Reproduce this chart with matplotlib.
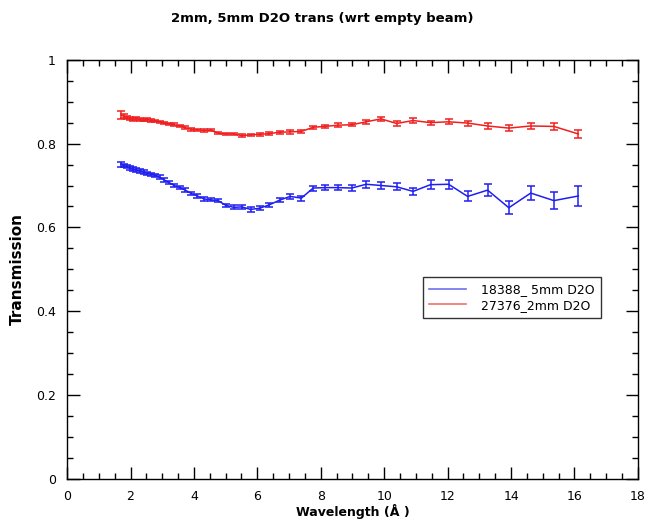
import matplotlib
matplotlib.use("Agg")
import matplotlib.pyplot as plt
from matplotlib.ticker import MultipleLocator
from matplotlib.lines import Line2D

wavelength = [1.71, 1.79, 1.88, 1.98, 2.08, 2.18, 2.29, 2.41, 2.53, 2.65, 2.78, 2.92,
              3.07, 3.22, 3.38, 3.55, 3.73, 3.92, 4.11, 4.32, 4.53, 4.76, 5.00, 5.25,
              5.51, 5.79, 6.08, 6.38, 6.70, 7.03, 7.39, 7.76, 8.14, 8.55, 8.98, 9.43,
              9.90, 10.39, 10.91, 11.46, 12.03, 12.63, 13.26, 13.93, 14.62, 15.35, 16.12]

trans_5mm = [0.750, 0.747, 0.745, 0.742, 0.739, 0.737, 0.735, 0.732, 0.729, 0.727, 0.724, 0.720,
             0.713, 0.707, 0.700, 0.695, 0.689, 0.681, 0.675, 0.668, 0.666, 0.664, 0.653, 0.648,
             0.649, 0.643, 0.646, 0.654, 0.665, 0.674, 0.670, 0.694, 0.695, 0.695, 0.694, 0.703,
             0.700, 0.697, 0.686, 0.702, 0.703, 0.674, 0.689, 0.647, 0.682, 0.664, 0.675]
err_5mm = [0.005, 0.004, 0.004, 0.004, 0.004, 0.004, 0.004, 0.004, 0.004, 0.004, 0.004, 0.004,
           0.004, 0.004, 0.004, 0.004, 0.004, 0.004, 0.004, 0.004, 0.004, 0.004, 0.004, 0.005,
           0.005, 0.005, 0.005, 0.005, 0.005, 0.006, 0.006, 0.006, 0.006, 0.006, 0.007, 0.008,
           0.008, 0.008, 0.009, 0.010, 0.011, 0.012, 0.014, 0.015, 0.017, 0.020, 0.024]

trans_2mm = [0.868, 0.865, 0.862, 0.860, 0.858, 0.860, 0.857, 0.856, 0.858, 0.855, 0.854, 0.852,
             0.849, 0.847, 0.845, 0.842, 0.838, 0.834, 0.833, 0.831, 0.832, 0.825, 0.823, 0.823,
             0.819, 0.821, 0.822, 0.824, 0.827, 0.828, 0.829, 0.839, 0.841, 0.844, 0.845, 0.852,
             0.859, 0.848, 0.855, 0.850, 0.852, 0.849, 0.842, 0.837, 0.842, 0.841, 0.823]
err_2mm = [0.009, 0.005, 0.004, 0.004, 0.004, 0.004, 0.003, 0.003, 0.003, 0.003, 0.003, 0.003,
           0.003, 0.003, 0.003, 0.003, 0.003, 0.003, 0.003, 0.003, 0.003, 0.003, 0.003, 0.003,
           0.003, 0.003, 0.004, 0.004, 0.004, 0.004, 0.004, 0.004, 0.004, 0.004, 0.004, 0.005,
           0.005, 0.005, 0.005, 0.005, 0.006, 0.006, 0.006, 0.007, 0.007, 0.008, 0.009]

labels = ["18388_ 5mm D2O", "27376_2mm D2O"]
title = "2mm, 5mm D2O trans (wrt empty beam)"

plt.rcParams["font.family"] = ["DejaVu Sans"]

fig = plt.figure(figsize=(6.45, 5.26), dpi=100)
ax = fig.add_axes([0.104, 0.0894, 0.885, 0.797])

blue = "#1f1ff0"
red = "#f01f1f"
ax.errorbar(wavelength, trans_5mm, yerr=err_5mm, color=blue, lw=1.1, elinewidth=1.1,
            capsize=3, capthick=1.1, label=labels[0])
ax.errorbar(wavelength, trans_2mm, yerr=err_2mm, color=red, lw=1.1, elinewidth=1.1,
            capsize=3, capthick=1.1, label=labels[1])

ax.set_xlim(0, 18)
ax.set_ylim(0, 1)
ax.xaxis.set_major_locator(MultipleLocator(2))
ax.xaxis.set_minor_locator(MultipleLocator(0.5))
ax.yaxis.set_major_locator(MultipleLocator(0.2))
ax.yaxis.set_minor_locator(MultipleLocator(0.05))


def ylab(v, pos):
    v = round(v, 3)
    if v in (0, 1):
        return str(int(v))
    return f"{v:.1f}"


ax.yaxis.set_major_formatter(plt.FuncFormatter(ylab))
ax.tick_params(which="both", direction="in", top=True, right=True, labelsize=9)
ax.tick_params(which="major", length=9, width=1, pad=8)
ax.tick_params(which="minor", length=4.5, width=1)
for s in ax.spines.values():
    s.set_linewidth(1)

ax.set_xlabel("Wavelength (Å )", fontsize=9, fontweight="bold", labelpad=1)
ax.set_ylabel("Transmission", fontsize=11, fontweight="bold", labelpad=8)
fig.suptitle(title, fontsize=9.5, fontweight="bold", y=0.978)

proxy = [Line2D([], [], color="#7070f0", lw=1.2), Line2D([], [], color="#f07070", lw=1.2)]
leg = ax.legend(proxy, labels, loc="upper left", bbox_to_anchor=(0.623, 0.482),
                fontsize=9, frameon=True, fancybox=False, edgecolor="black",
                handlelength=3, borderpad=0.5, labelspacing=0.2, handletextpad=1.2,
                borderaxespad=0)
leg.get_frame().set_linewidth(1)

fig.savefig("out.png", dpi=100)
